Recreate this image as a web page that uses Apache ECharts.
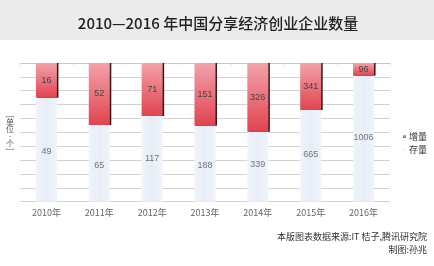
<!DOCTYPE html>
<html><head><meta charset="utf-8">
<script src="https://cdn.jsdelivr.net/npm/echarts@6/dist/echarts.min.js"></script>
<style>html,body{margin:0;padding:0;background:#fff}#c{width:434px;height:266px}</style>
</head><body><div id="c"></div>
<script>
const years = ['2010年','2011年','2012年','2013年','2014年','2015年','2016年'];
const increments = [16, 52, 71, 151, 326, 341, 96];
const stocks = [49, 65, 117, 188, 339, 665, 1006];
// depth of the hanging red bars, read in the chart's own grid units (0 = top, 10 = bottom)
const incDepth = [2.5, 4.47, 3.82, 4.52, 4.95, 3.39, 0.91];
// depth of each stock label, same units
const stockDepth = [6.35, 7.36, 6.92, 7.36, 7.3, 6.6, 5.4];
const yTicks = [0, 10, 1];
const unitChars = ['﹇', '单', '位', ':', '个', '﹈'];

const font = '"Noto Sans CJK SC", "Noto Sans", sans-serif';
const numFont = '"Liberation Sans", Arial, sans-serif';
const chart = echarts.init(document.getElementById('c'));
const unitGraphics = unitChars.map((ch, i) => ({
  type: 'text', x: 10, y: 114 + i * 7.6,
  style: { text: ch, font: '8px ' + font, fill: '#555', textAlign: 'center', textVerticalAlign: 'middle' }
}));
chart.setOption({
  animation: false,
  backgroundColor: '#fff',
  textStyle: { fontFamily: font },
  graphic: [
    { type: 'rect', shape: { x: 0, y: 0, width: 434, height: 40 }, style: { fill: '#ebebeb' }, z: -1 },
    { type: 'text', x: 218, y: 23, style: { text: '2010—2016 年中国分享经济创业企业数量', font: '500 15px ' + font, fill: '#222', textAlign: 'center', textVerticalAlign: 'middle' } },
    ...unitGraphics,
    { type: 'text', x: 427, y: 237, style: { text: '本版图表数据来源:IT 桔子,腾讯研究院', font: '9px ' + font, fill: '#333', textAlign: 'right', textVerticalAlign: 'middle' } },
    { type: 'text', x: 427, y: 250, style: { text: '制图:孙兆', font: '9px ' + font, fill: '#333', textAlign: 'right', textVerticalAlign: 'middle' } }
  ],
  legend: {
    orient: 'vertical', left: 398, top: 127,
    itemWidth: 3, itemHeight: 3, itemGap: 4,
    icon: 'rect',
    textStyle: { fontSize: 9, color: '#333', padding: [0, 0, 0, -2] },
    data: ['增量', '存量']
  },
  grid: { left: 20, right: 44, top: 63, bottom: 64.3 },
  xAxis: {
    type: 'category', data: years,
    axisLine: { lineStyle: { color: '#c8c8c8' } },
    axisTick: { show: true, length: 2, lineStyle: { color: '#ddd' } },
    axisLabel: { fontSize: 9, color: '#666', margin: 6 }
  },
  yAxis: {
    type: 'value', inverse: true, min: yTicks[0], max: yTicks[1], interval: yTicks[2],
    axisLine: { show: false }, axisTick: { show: false }, axisLabel: { show: false },
    splitLine: { lineStyle: { color: '#d2d2d2', width: 1 } }
  },
  series: [
    {
      name: '增量', type: 'bar', barWidth: 21,
      data: incDepth,
      showBackground: true,
      backgroundStyle: {
        color: { type: 'linear', x: 0, y: 0, x2: 1, y2: 0, colorStops: [
          { offset: 0, color: '#f0f4fa' }, { offset: 0.5, color: '#e7edf7' }, { offset: 1, color: '#f0f4fa' }] }
      },
      itemStyle: {
        color: { type: 'linear', x: 0, y: 0, x2: 0, y2: 1, colorStops: [
          { offset: 0, color: '#f3a2aa' }, { offset: 1, color: '#e0444f' }] },
        shadowColor: 'rgba(30,0,0,0.9)', shadowOffsetX: 1.5, shadowOffsetY: 0, shadowBlur: 0
      },
      label: {
        show: true, position: 'inside', fontSize: 9, color: '#444', fontFamily: numFont,
        formatter: p => increments[p.dataIndex]
      },
      z: 2
    },
    {
      name: '存量', type: 'scatter', symbolSize: 0,
      itemStyle: { color: '#eef2f8' },
      data: stockDepth.map((d, i) => [i, d]),
      label: {
        show: true, position: 'inside', fontSize: 9, color: '#555', fontFamily: numFont,
        formatter: p => stocks[p.dataIndex]
      },
      z: 3
    }
  ]
});
</script></body></html>
